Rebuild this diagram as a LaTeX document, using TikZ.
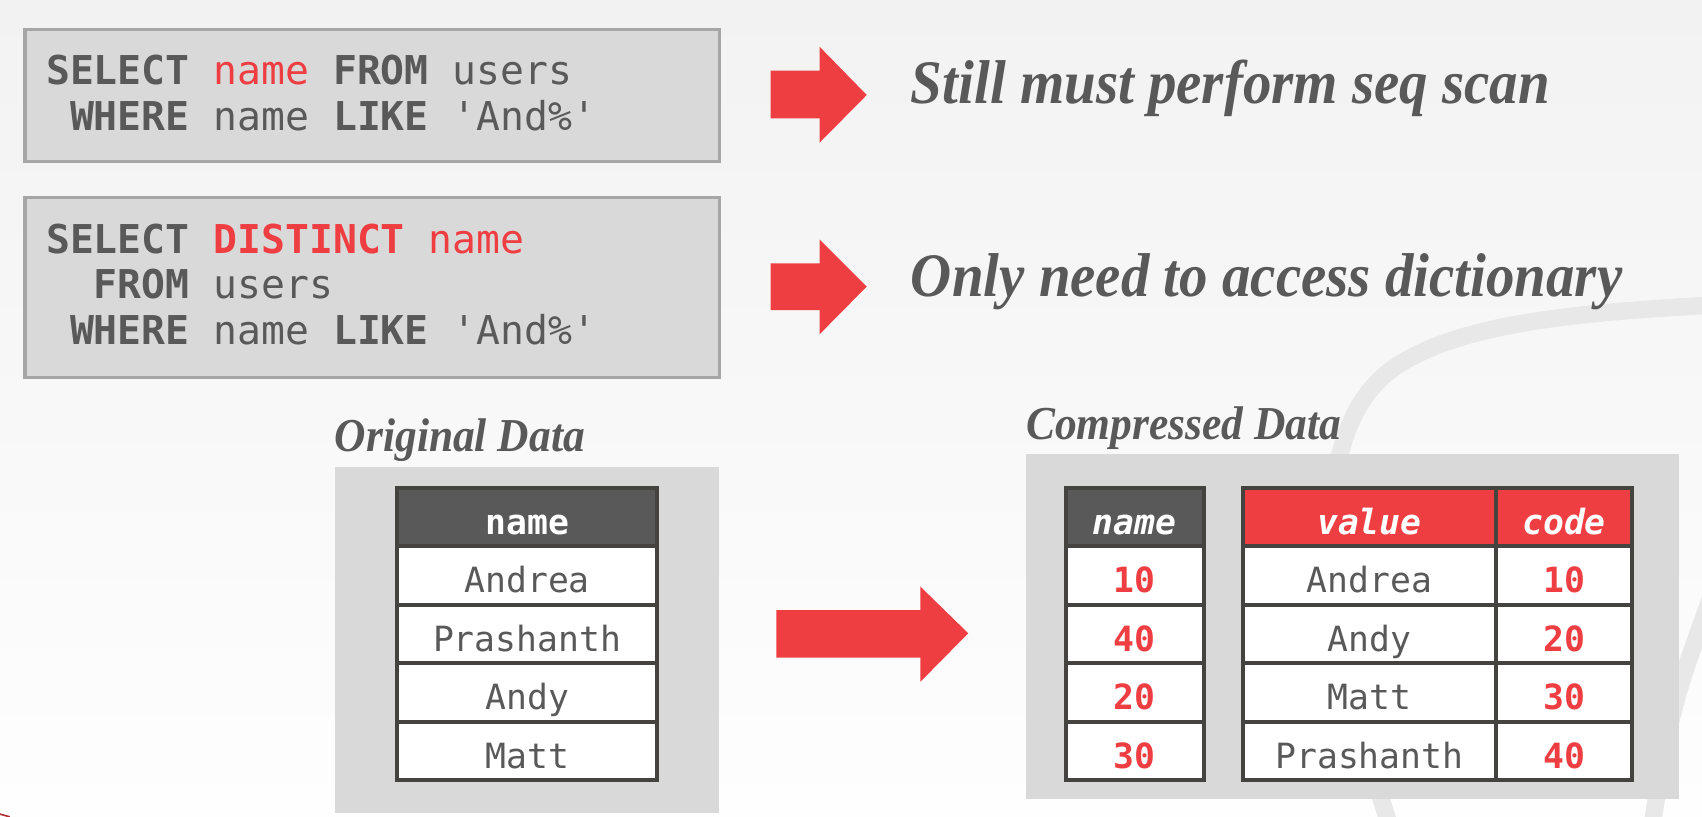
\documentclass[tikz,border=0pt]{standalone}
\usepackage{fontspec}
\newfontfamily\codefont{DejaVu Sans Mono}
\newfontfamily\slidefont{Liberation Serif}[FakeStretch=0.92]
\definecolor{slidered}{HTML}{EF3E42}
\definecolor{slidegray}{HTML}{595959}
\definecolor{boxgray}{HTML}{D9D9D9}
\definecolor{boxline}{HTML}{A6A6A6}
\definecolor{cellline}{HTML}{45433F}
\definecolor{swoosh}{HTML}{E8E8E8}
\definecolor{bgtop}{HTML}{F2F2F2}
\definecolor{bgbottom}{HTML}{FEFEFE}

\begin{document}
\begin{tikzpicture}[x=1pt, y=-1pt,
  codebox/.style={draw=boxline, fill=boxgray, line width=3pt},
  panel/.style={fill=boxgray, inner sep=0pt},
  code/.style={anchor=base west, inner sep=0pt, text=slidegray, font=\codefont\fontsize{36.6}{42}\selectfont},
  remark/.style={anchor=base west, inner sep=0pt, text=slidegray, font=\slidefont\bfseries\itshape\fontsize{57}{60}\selectfont},
  caption/.style={remark, font=\slidefont\bfseries\itshape\fontsize{43.5}{46}\selectfont},
  cell/.style={draw=cellline, fill=white, line width=3.7pt, minimum height=53.86pt, inner sep=0pt, text height=32pt, text depth=0pt, text=slidegray, font=\codefont\fontsize{32}{36}\selectfont},
  head/.style={cell, fill=slidegray, text=white, font=\codefont\bfseries\fontsize{32}{36}\selectfont},
  slanthead/.style={head, font=\codefont\bfseries\itshape\fontsize{32}{36}\selectfont},
  num/.style={cell, text=slidered, font=\codefont\bfseries\fontsize{32}{36}\selectfont},
  bigarrow/.style={fill=slidered},
  swooshline/.style={draw=swoosh, line width=16pt}]

\useasboundingbox (0,0) rectangle (1568,752);
\shade[top color=bgtop, bottom color=bgbottom] (0,0) rectangle (1568,752);
\begin{scope}
\clip (0,0) rectangle (1568,752);
\draw[swooshline] (1280,760) .. controls (1215,560) and (1200,390) .. (1290,335)
  .. controls (1350,298) and (1450,288) .. (1580,281);
\draw[swooshline] (1522,760) .. controls (1540,650) .. (1580,540);
\draw[slidered!75!black, line width=1.5pt] (0,750) .. controls (5,750.5) .. (9,752.5);
\end{scope}

\node[codebox, minimum width=640pt, minimum height=122pt] (q1) at (343,88) {};
\node[codebox, minimum width=640pt, minimum height=165.8pt] (q2) at (343,264.7) {};

\node[code] (q1a) at (42.3,78.3) {{\bfseries SELECT} \textcolor{slidered}{name} {\bfseries FROM} users};
\node[code] (q1b) at (42.3,119.8) {\phantom{W}{\bfseries WHERE} name {\bfseries LIKE} \textquotesingle And\%\textquotesingle};
\node[code] (q2a) at (42.3,233.4) {{\bfseries SELECT} \textcolor{slidered}{{\bfseries DISTINCT} name}};
\node[code] (q2b) at (42.3,274.8) {\phantom{WW}{\bfseries FROM} users};
\node[code] (q2c) at (42.3,317.8) {\phantom{W}{\bfseries WHERE} name {\bfseries LIKE} \textquotesingle And\%\textquotesingle};

\fill[bigarrow] (710,65) -- (755,65) -- (755,43) -- (798.5,87.5) -- (755,131.5) -- (755,109) -- (710,109) -- cycle;
\fill[bigarrow] (710,242.6) -- (755,242.6) -- (755,220.5) -- (798.5,264) -- (755,308) -- (755,285.6) -- (710,285.6) -- cycle;
\node[remark] (scan) at (839,95.2) {Still must perform seq scan};
\node[remark] (dict) at (839,273.3) {Only need to access dictionary};

\node[caption] (origlabel) at (308.4,416) {Original Data};
\node[caption] (complabel) at (945.2,404.7) {Compressed Data};
\node[panel, minimum width=353.6pt, minimum height=319pt] (origpanel) at (485.2,589.5) {};
\node[panel, minimum width=601.6pt, minimum height=318.2pt] (comppanel) at (1246,577.3) {};

\node[head, minimum width=239.3pt] (orig0) at (485.65,476.2) {name};
\foreach \v [count=\i] in {Andrea,Prashanth,Andy,Matt}
  \node[cell, minimum width=239.3pt] (orig\i) at (485.65,{476.2+53.86*\i}) {\v};

\fill[bigarrow] (715.2,562) -- (848,562) -- (848,540.5) -- (892,583.4) -- (848,628) -- (848,605.9) -- (715.2,605.9) -- cycle;

\node[slanthead, minimum width=127.1pt] (enc0) at (1045.35,476.2) {name};
\node[slanthead, fill=slidered, minimum width=233.2pt] (val0) at (1261.6,476.2) {value};
\node[slanthead, fill=slidered, minimum width=125.3pt] (code0) at (1440.85,476.2) {code};
\foreach \c/\v/\k [count=\i] in {10/Andrea/10,40/Andy/20,20/Matt/30,30/Prashanth/40} {
  \node[num, minimum width=127.1pt] (enc\i) at (1045.35,{476.2+53.86*\i}) {\c};
  \node[cell, minimum width=233.2pt] (val\i) at (1261.6,{476.2+53.86*\i}) {\v};
  \node[num, minimum width=125.3pt] (code\i) at (1440.85,{476.2+53.86*\i}) {\k};
}

\end{tikzpicture}
\end{document}
